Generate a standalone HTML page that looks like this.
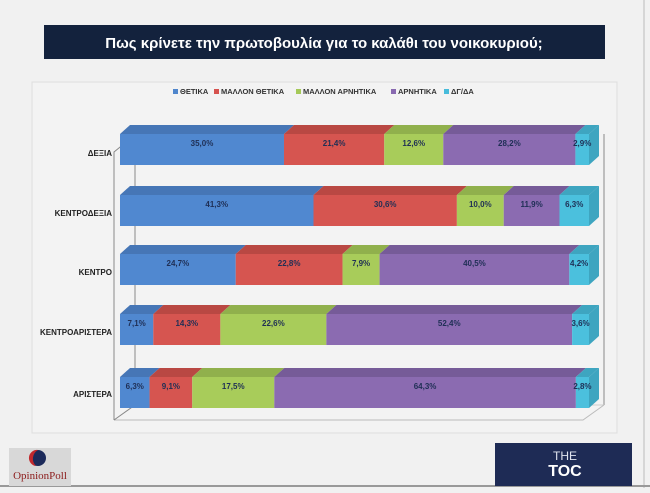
<!DOCTYPE html>
<html><head><meta charset="utf-8"><style>
body{margin:0;width:650px;height:488px;background:#f1f1f1;overflow:hidden;font-family:"Liberation Sans","DejaVu Sans",sans-serif}
</style></head><body>
<svg width="650" height="488" xmlns="http://www.w3.org/2000/svg" font-family="Liberation Sans, DejaVu Sans, sans-serif">
<rect x="0" y="0" width="650" height="488" fill="#f1f1f1"/>
<line x1="644" y1="0" x2="644" y2="488" stroke="#bbb"/>
<line x1="0" y1="486" x2="650" y2="486" stroke="#999" stroke-width="2"/>
<rect x="44" y="25" width="561" height="34" fill="#13223d"/>
<text x="324" y="48" text-anchor="middle" fill="#fff" font-size="15" font-weight="bold">Πως κρίνετε την πρωτοβουλία για το καλάθι του νοικοκυριού;</text>
<rect x="32" y="82" width="585" height="351" fill="#f3f3f3" stroke="#dedede"/>
<g font-size="7.5" font-weight="bold" fill="#333">
<rect x="173" y="89" width="5" height="5" fill="#4f86cc"/><text x="180" y="94">ΘΕΤΙΚΑ</text>
<rect x="214" y="89" width="5" height="5" fill="#d6524e"/><text x="221" y="94">ΜΑΛΛΟΝ ΘΕΤΙΚΑ</text>
<rect x="296" y="89" width="5" height="5" fill="#a5c958"/><text x="303" y="94">ΜΑΛΛΟΝ ΑΡΝΗΤΙΚΑ</text>
<rect x="391" y="89" width="5" height="5" fill="#8869b0"/><text x="398" y="94">ΑΡΝΗΤΙΚΑ</text>
<rect x="444" y="89" width="5" height="5" fill="#47bcdb"/><text x="451" y="94">ΔΓ/ΔΑ</text>
</g>
<g stroke="#888" fill="none" stroke-width="1">
<polyline points="114,420 114,152 135,135 135,405"/>
<line x1="604" y1="134" x2="604" y2="405"/>
<line x1="135" y1="405" x2="604" y2="405" stroke="#ccc"/>
<polyline points="114,420 583,420 604,405" stroke="#bbb"/>
<line x1="114" y1="420" x2="135" y2="405"/>
</g>
<g id="bars"></g>
<g font-size="8" font-weight="bold" fill="#222" text-anchor="end">
<text x="112" y="156">ΔΕΞΙΑ</text>
<text x="112" y="216">ΚΕΝΤΡΟΔΕΞΙΑ</text>
<text x="112" y="275">ΚΕΝΤΡΟ</text>
<text x="112" y="335">ΚΕΝΤΡΟΑΡΙΣΤΕΡΑ</text>
<text x="112" y="397">ΑΡΙΣΤΕΡΑ</text>
</g>
<rect x="9" y="448" width="62" height="38" fill="#d8d8d8"/>
<circle cx="38" cy="458" r="8" fill="#1c2a5a"/>
<path d="M38 450 A8 8 0 0 0 36 466 A10 10 0 0 1 38 450Z" fill="#c0282d"/>
<text x="40" y="479" text-anchor="middle" font-family="Liberation Serif, serif" font-size="11" fill="#8b1a1a">OpinionPoll</text>
<rect x="495" y="443" width="137" height="43" fill="#1e2b55"/>
<text x="565" y="460" text-anchor="middle" font-size="12" fill="#dfe3ee">THE</text>
<text x="565" y="476" text-anchor="middle" font-size="16" font-weight="bold" fill="#fff">TOC</text>
</svg>
<script>
const data=[[134,[35.0,21.4,12.6,28.2,2.9]],[195,[41.3,30.6,10.0,11.9,6.3]],[254,[24.7,22.8,7.9,40.5,4.2]],[314,[7.1,14.3,22.6,52.4,3.6]],[377,[6.3,9.1,17.5,64.3,2.8]]];
const cf=["#5088d0","#d65550","#a8cc5a","#8b6bb1","#4bc0dd"],ct=["#4676b6","#b94843","#90b04c","#765b98","#3ea5c0"];
const g=document.getElementById('bars');let s='';
for(const[y,v]of data){const tot=v.reduce((a,b)=>a+b);let x=120;const h=31,d=9,dx=10;
v.forEach((p,i)=>{const w=p/tot*469;
s+=`<polygon points="${x},${y} ${x+w},${y} ${x+w+dx},${y-d} ${x+dx},${y-d}" fill="${ct[i]}"/>`;
s+=`<rect x="${x}" y="${y}" width="${w}" height="${h}" fill="${cf[i]}"/>`;
if(i==4)s+=`<polygon points="${x+w},${y} ${x+w+dx},${y-d} ${x+w+dx},${y+h-d} ${x+w},${y+h}" fill="${ct[i]}"/>`;
s+=`<text x="${x+w/2}" y="${y+12}" text-anchor="middle" font-size="8" font-weight="bold" fill="#1f2f55">${p.toFixed(1).replace('.',',')}%</text>`;
x+=w;});}
g.innerHTML=s;
</script>
</body></html>
